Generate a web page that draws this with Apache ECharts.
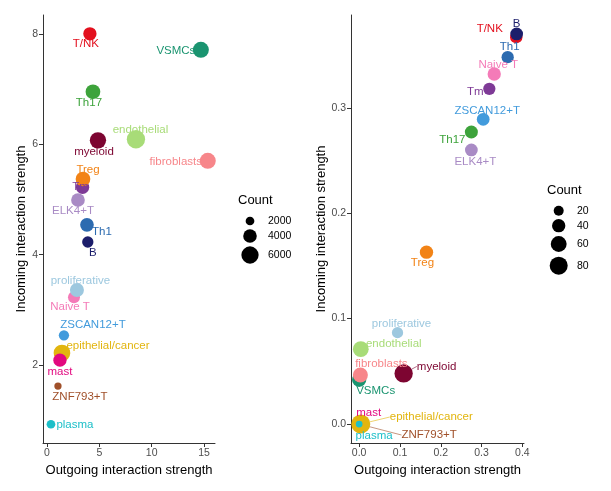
<!DOCTYPE html>
<html><head><meta charset="utf-8">
<script src="https://cdn.jsdelivr.net/npm/echarts@6/dist/echarts.min.js"></script>
<style>html,body{margin:0;padding:0;background:#fff}#c{width:611px;height:491px}</style>
</head><body><div id="c"></div>
<script>
// ---- data ----
const cellTypes = ['T/NK','B','VSMCs','fibroblasts','Th17','endothelial','myeloid','Tm','Treg','ELK4+T','Th1','Naive T','proliferative','ZSCAN12+T','ZNF793+T','epithelial/cancer','mast','plasma'];
const cellColors = ['#E3101E','#1C1E6B','#1A9470','#F7868A','#3DA33B','#A8DC78','#7D0531','#7E3A96','#F28316','#A98BC5','#2C6BB0','#F47BB8','#9DC8DF','#429BDC','#A0502A','#E2B50E','#E2087F','#1CBFC8'];

// left panel
const outgoing1 = [4.10, 3.90, 14.70, 15.36, 4.39, 8.50, 4.87, 3.40, 3.44, 2.96, 3.82, 2.58, 2.86, 1.62, 1.05, 1.43, 1.24, 0.38];
const incoming1 = [8.00, 4.23, 7.71, 5.70, 6.95, 6.09, 6.07, 5.22, 5.37, 4.99, 4.54, 3.23, 3.36, 2.54, 1.62, 2.22, 2.09, 0.93];
const count1    = [3870, 2980, 5260, 5260, 4560, 6610, 5430, 3870, 4560, 4060, 4060, 3280, 4210, 2580, 1545, 5650, 3870, 1990];
const xTicks1 = [0, 5, 10, 15];
const yTicks1 = [2, 4, 6, 8];
const legend1 = [2000, 4000, 6000];

// right panel
const outgoing2 = [0.385, 0.386, 0.000, 0.003, 0.275, 0.004, 0.109, 0.319, 0.165, 0.275, 0.364, 0.331, 0.094, 0.304, 0.000, 0.004, 0.000, 0.000];
const incoming2 = [0.367, 0.370, 0.042, 0.0465, 0.277, 0.071, 0.048, 0.318, 0.163, 0.260, 0.348, 0.332, 0.0867, 0.289, 0.000, 0.000, 0.000, 0.000];
const count2    = [34, 36, 47, 53, 38, 59, 83, 33, 40, 36, 33, 40, 27, 36, 5, 90, 12, 7];
const xTicks2 = [0, 0.1, 0.2, 0.3, 0.4];
const yTicks2 = [0, 0.1, 0.2, 0.3];
const legend2 = [20, 40, 60, 80];

// ---- styling / layout (not data) ----
const order1 = [0,1,2,3,4,5,6,7,8,9,10,11,12,13,14,15,16,17];
const order2 = [0,1,2,3,4,5,6,7,8,9,10,11,12,13,16,14,15,17];
const labelOff1 = [[-4,10],[5,11],[-25,1],[-32,1],[-4,11],[4.5,-9],[-4,11],[-2,0],[5,-9],[-5,11],[15,7],[-4,10],[3.5,-9.5],[29,-10],[22,11],[46,-7],[0,12],[24,1]];
const labelOff2 = [[-26.5,-8],[0,-10],[16.5,11],[21,-11],[-19,8],[33,-5],[33,-7],[-14,3],[-4,11],[4,12],[2,-10],[4,-9],[4,-9],[4,-9],[70,11],[70.5,-7],[9.5,-11],[15,12]];
const segLine2 = {6:true, 14:true, 15:true};

const size1 = c => -3 + 0.262 * Math.sqrt(c);
const size2 = c => 2 + 1.79 * Math.sqrt(c);

const FONT = '"Liberation Sans", Arial, Helvetica, sans-serif';

function buildData(order, xs, ys, cs, offs, segs) {
  return order.map(i => {
    const item = {
      name: cellTypes[i],
      value: [xs[i], ys[i], cs[i]],
      itemStyle: { color: cellColors[i] },
      label: { color: cellColors[i] },
      off: offs[i]
    };
    if (segs && segs[i]) item.labelLine = { show: true, lineStyle: { color: cellColors[i], width: 0.6 } };
    return item;
  });
}
const data1 = buildData(order1, outgoing1, incoming1, count1, labelOff1, null);
const data2 = buildData(order2, outgoing2, incoming2, count2, labelOff2, segLine2);

function axisCommon(ticks, fmt) {
  return {
    axisLine: { show: true, onZero: false, lineStyle: { color: '#333', width: 1 } },
    axisTick: { show: true, length: 4, lineStyle: { color: '#333' }, customValues: ticks },
    axisLabel: { color: '#4D4D4D', fontSize: 10.5, fontFamily: FONT, customValues: ticks, formatter: fmt, margin: 5 },
    splitLine: { show: false },
    nameTextStyle: { color: '#000', fontSize: 13, fontFamily: FONT },
    nameLocation: 'middle'
  };
}

const fmt0 = v => String(v);
const fmt1 = v => v.toFixed(1);

function seriesFor(idx, data, sizeFn) {
  return {
    type: 'scatter',
    xAxisIndex: idx, yAxisIndex: idx,
    data: data,
    symbolSize: v => sizeFn(v[2]),
    itemStyle: { opacity: 1 },
    emphasis: { disabled: true },
    label: {
      show: true, position: 'inside', formatter: p => p.name,
      fontSize: 11.5, fontFamily: FONT
    },
    labelLayout: function (p) {
      const o = data[p.dataIndex].off;
      return { dx: o[0], dy: o[1] };
    },
    z: 2
  };
}

function legendGraphics(x0, titleY, circX, ys, vals, sizeFn, labelX) {
  const els = [{ type: 'text', style: { text: 'Count', x: x0, y: titleY, font: '13px ' + FONT, fill: '#000', textAlign: 'left', textVerticalAlign: 'middle' } }];
  vals.forEach((v, k) => {
    els.push({ type: 'circle', shape: { cx: circX, cy: ys[k], r: sizeFn(v) / 2 }, style: { fill: '#000' } });
    els.push({ type: 'text', style: { text: String(v), x: labelX, y: ys[k], font: '10.5px ' + FONT, fill: '#000', textAlign: 'left', textVerticalAlign: 'middle' } });
  });
  return els;
}

const option = {
  animation: false,
  backgroundColor: '#fff',
  grid: [
    { left: 43, right: 396, top: 15, bottom: 48 },
    { left: 351, right: 87, top: 15, bottom: 48 }
  ],
  xAxis: [
    Object.assign(axisCommon(xTicks1, fmt0), { type: 'value', gridIndex: 0, min: -0.38, max: 16.05, name: 'Outgoing interaction strength', nameGap: 20 }),
    Object.assign(axisCommon(xTicks2, fmt1), { type: 'value', gridIndex: 1, min: -0.02, max: 0.404, name: 'Outgoing interaction strength', nameGap: 20 })
  ],
  yAxis: [
    Object.assign(axisCommon(yTicks1, fmt0), { type: 'value', gridIndex: 0, min: 0.59, max: 8.34, name: 'Incoming interaction strength', nameGap: 14 }),
    Object.assign(axisCommon(yTicks2, fmt1), { type: 'value', gridIndex: 1, min: -0.018, max: 0.388, name: 'Incoming interaction strength', nameGap: 23 })
  ],
  series: [ seriesFor(0, data1, size1), seriesFor(1, data2, size2) ],
  graphic: [].concat(
    legendGraphics(238, 200, 250, [221, 236, 255], legend1, size1, 268),
    legendGraphics(547, 190, 558.7, [210.7, 225.7, 244, 265.7], legend2, size2, 577)
  )
};

const chart = echarts.init(document.getElementById('c'), null, { renderer: 'canvas' });
chart.setOption(option);
</script>
</body></html>
